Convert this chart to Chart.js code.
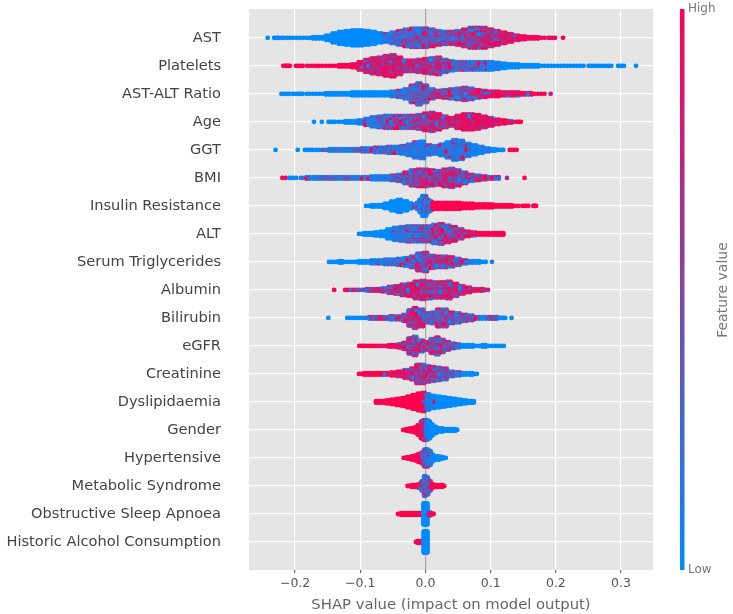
<!DOCTYPE html>
<html>
<head>
<meta charset="utf-8">
<script src="https://cdn.jsdelivr.net/npm/chart.js@4"></script>
<style>
	html, body { margin: 0; padding: 0; background: #fff; }
	canvas { display: block; filter: blur(0.5px); }
</style>
</head>
<body>
<canvas id="shap" width="733" height="614"></canvas>
<script>
const features = ['AST', 'Platelets', 'AST-ALT Ratio', 'Age', 'GGT', 'BMI', 'Insulin Resistance', 'ALT',
	'Serum Triglycerides', 'Albumin', 'Bilirubin', 'eGFR', 'Creatinine', 'Dyslipidaemia', 'Gender',
	'Hypertensive', 'Metabolic Syndrome', 'Obstructive Sleep Apnoea', 'Historic Alcohol Consumption'];
const xTicks = [-0.2, -0.1, 0, 0.1, 0.2, 0.3];
const colorbarLabels = ['Low', 'High'];

// each column: [SHAP value, dots stacked there, mean feature value 0..1]
const astColumns = [[-0.242,1,0],[-0.231,1,0],[-0.226,1,0],[-0.219,1,0],[-0.21,1,0],[-0.2,1,0],[-0.19,1,0],[-0.18,1,0],[-0.17,2,0],[-0.16,2,0],[-0.15,4,0],[-0.14,7,0],[-0.13,9,0],[-0.12,10,0],[-0.11,11,0],[-0.1,11,0],[-0.09,10,0],[-0.08,9,0],[-0.07,7,0],[-0.06,6,0.1],[-0.05,8,0.3],[-0.04,10,0.3],[-0.03,12,0.3],[-0.02,13,0.3],[-0.01,13,0.35],[0,13,0.4],[0.01,12,0.4],[0.02,10,0.4],[0.03,9,0.4],[0.04,9,0.45],[0.05,10,0.45],[0.06,12,0.5],[0.07,14,0.5],[0.08,14,0.55],[0.09,14,0.6],[0.1,12,0.65],[0.11,10,0.7],[0.12,8,0.75],[0.13,6,0.8],[0.14,4,0.85],[0.15,3,0.9],[0.16,2,0.9],[0.17,2,0.9],[0.18,1,0.95],[0.19,1,0.9],[0.197,1,0.8],[0.211,1,1]];
const plateletsColumns = [[-0.217,1,1],[-0.213,1,1],[-0.209,1,1],[-0.197,1,1],[-0.19,1,1],[-0.179,1,1],[-0.169,1,1],[-0.16,1,1],[-0.15,1,1],[-0.14,1,1],[-0.13,2,1],[-0.12,2,1],[-0.11,3,0.95],[-0.1,6,0.85],[-0.09,9,0.8],[-0.08,11,0.75],[-0.07,12,0.75],[-0.06,14,0.75],[-0.05,15,0.7],[-0.04,12,0.7],[-0.03,8,0.7],[-0.02,8,0.65],[-0.01,9,0.6],[0,10,0.6],[0.01,11,0.55],[0.02,12,0.55],[0.03,9,0.5],[0.04,7,0.4],[0.05,6,0.35],[0.06,6,0.3],[0.07,6,0.2],[0.08,6,0.2],[0.09,6,0.15],[0.1,6,0.1],[0.11,5,0.1],[0.12,4,0],[0.13,3,0],[0.14,3,0],[0.15,2,0],[0.16,2,0],[0.17,2,0],[0.18,1,0],[0.19,1,0],[0.2,1,0],[0.21,1,0],[0.22,1,0],[0.23,1,0],[0.24,1,0],[0.252,1,0],[0.259,1,0],[0.267,1,0],[0.275,1,0],[0.283,1,0],[0.297,1,0],[0.303,1,0],[0.323,1,0]];
const ratioColumns = [[-0.219,1,0],[-0.211,1,0],[-0.202,1,0],[-0.195,1,0],[-0.19,1,0],[-0.18,1,0],[-0.17,1,0],[-0.16,1,0],[-0.15,2,0],[-0.14,2,0],[-0.13,2,0],[-0.12,2,0],[-0.11,3,0],[-0.1,3,0],[-0.09,3,0],[-0.08,3,0],[-0.07,3,0],[-0.06,3,0],[-0.05,4,0.1],[-0.04,5,0.2],[-0.03,7,0.3],[-0.02,12,0.3],[-0.01,15,0.3],[0,12,0.3],[0.01,7,0.4],[0.02,5,0.45],[0.03,6,0.5],[0.04,7,0.45],[0.05,8,0.4],[0.06,9,0.4],[0.07,8,0.45],[0.08,6,0.6],[0.09,5,0.7],[0.1,4,0.8],[0.11,4,0.85],[0.12,3,0.9],[0.13,3,0.9],[0.14,3,0.9],[0.15,2,0.95],[0.16,2,0.95],[0.17,1,0.95],[0.18,1,0.95],[0.192,1,0.9]];
const ageColumns = [[-0.171,1,0],[-0.159,1,0],[-0.147,1,0],[-0.14,1,0],[-0.13,1,0],[-0.12,2,0],[-0.11,2,0],[-0.1,3,0.05],[-0.09,5,0.1],[-0.08,7,0.2],[-0.07,8,0.25],[-0.06,9,0.3],[-0.05,9,0.35],[-0.04,9,0.4],[-0.03,9,0.45],[-0.02,9,0.5],[-0.01,10,0.55],[0,12,0.6],[0.01,13,0.65],[0.02,11,0.7],[0.03,8,0.7],[0.04,6,0.75],[0.05,9,0.8],[0.06,11,0.85],[0.07,11,0.85],[0.08,10,0.85],[0.09,8,0.85],[0.1,6,0.85],[0.11,4,0.85],[0.12,3,0.9],[0.13,2,0.9],[0.14,1,0.95],[0.145,1,1]];
const ggtColumns = [[-0.23,1,0],[-0.196,1,0],[-0.183,1,0],[-0.175,1,0],[-0.165,1,0],[-0.155,1,0.2],[-0.145,2,0.1],[-0.135,2,0.1],[-0.125,2,0.1],[-0.115,2,0.15],[-0.105,2,0.25],[-0.095,3,0.3],[-0.085,3,0.25],[-0.075,4,0.25],[-0.065,4,0.25],[-0.055,5,0.25],[-0.045,5,0.2],[-0.035,6,0.15],[-0.025,8,0.15],[-0.015,11,0.15],[-0.005,12,0.15],[0.005,7,0.15],[0.015,6,0.15],[0.025,8,0.15],[0.035,11,0.15],[0.045,14,0.15],[0.055,13,0.15],[0.065,9,0.15],[0.075,7,0.1],[0.085,5,0.1],[0.095,3,0.1],[0.105,2,0],[0.112,1,0.1],[0.118,1,0],[0.131,1,1],[0.138,1,1]];
const bmiColumns = [[-0.217,1,1],[-0.207,1,0],[-0.2,1,0],[-0.189,1,0.1],[-0.18,2,0.15],[-0.17,2,0.15],[-0.16,2,0.2],[-0.15,2,0.2],[-0.14,2,0.25],[-0.13,2,0.25],[-0.12,2,0.25],[-0.11,2,0.2],[-0.1,2,0.2],[-0.09,2,0.15],[-0.08,3,0.1],[-0.07,3,0.1],[-0.06,3,0.15],[-0.05,4,0.2],[-0.04,5,0.3],[-0.03,8,0.45],[-0.02,11,0.55],[-0.01,12,0.55],[0,12,0.55],[0.01,11,0.55],[0.02,10,0.55],[0.03,12,0.6],[0.04,13,0.6],[0.05,11,0.55],[0.06,8,0.55],[0.07,5,0.5],[0.08,4,0.45],[0.09,3,0.45],[0.1,2,0.4],[0.11,2,0.5],[0.125,1,0.8],[0.152,1,1]];
const insulinColumns = [[-0.089,1,0],[-0.08,2,0],[-0.07,2,0],[-0.06,4,0],[-0.05,7,0],[-0.04,9,0],[-0.03,7,0],[-0.022,4,0],[-0.017,2,0.4],[-0.012,5,0.3],[-0.008,9,0.1],[-0.004,14,0.05],[0,14,0.05],[0.004,9,0.1],[0.008,7,0.2],[0.012,5,1],[0.02,5,1],[0.03,5,1],[0.04,5,1],[0.05,5,1],[0.06,4,1],[0.07,4,1],[0.08,3,1],[0.09,3,1],[0.1,3,1],[0.11,2,1],[0.12,2,1],[0.13,2,1],[0.14,1,1],[0.15,1,1],[0.156,1,1],[0.166,1,1],[0.169,1,1]];
const altColumns = [[-0.1,1,0],[-0.092,2,0],[-0.084,2,0],[-0.076,3,0],[-0.066,4,0],[-0.056,7,0],[-0.046,9,0.1],[-0.036,10,0.15],[-0.026,11,0.3],[-0.016,11,0.35],[-0.006,11,0.35],[0.004,11,0.35],[0.014,13,0.4],[0.024,14,0.45],[0.034,12,0.5],[0.044,10,0.55],[0.054,7,0.65],[0.064,4,0.75],[0.074,3,0.85],[0.084,2,0.95],[0.094,2,1],[0.104,2,1],[0.112,2,1],[0.118,2,1]];
const triglyceridesColumns = [[-0.146,1,0],[-0.138,1,0],[-0.13,2,0],[-0.12,1,0],[-0.11,1,0],[-0.1,2,0],[-0.09,2,0],[-0.08,3,0.05],[-0.07,3,0.1],[-0.06,4,0.15],[-0.05,4,0.15],[-0.04,5,0.2],[-0.03,6,0.2],[-0.02,8,0.3],[-0.01,12,0.45],[0,13,0.5],[0.01,9,0.5],[0.02,8,0.5],[0.03,8,0.5],[0.04,7,0.5],[0.05,5,0.45],[0.06,3,0.3],[0.07,2,0.1],[0.08,2,0],[0.09,1,0],[0.102,1,0]];
const albuminColumns = [[-0.14,1,1],[-0.121,1,1],[-0.112,1,0.5],[-0.104,1,0.3],[-0.096,1,0.6],[-0.088,2,0.5],[-0.08,2,0.6],[-0.072,2,0.5],[-0.064,3,0.45],[-0.054,5,0.5],[-0.044,6,0.6],[-0.034,8,0.7],[-0.024,9,0.7],[-0.014,12,0.7],[-0.004,13,0.7],[0.006,12,0.65],[0.016,11,0.65],[0.026,11,0.6],[0.036,12,0.65],[0.046,9,0.65],[0.056,6,0.65],[0.066,4,0.7],[0.076,2,0.7],[0.086,2,0.75],[0.094,1,0.8]];
const bilirubinColumns = [[-0.149,1,0],[-0.118,1,0],[-0.11,1,0],[-0.101,1,0],[-0.092,1,0.1],[-0.084,2,0.5],[-0.076,2,0.4],[-0.068,2,0.5],[-0.06,2,0.4],[-0.052,3,0.4],[-0.042,3,0.45],[-0.032,5,0.5],[-0.024,11,0.55],[-0.016,14,0.6],[-0.006,12,0.55],[0.004,7,0.4],[0.012,8,0.45],[0.02,12,0.45],[0.03,12,0.45],[0.04,8,0.45],[0.05,7,0.4],[0.06,5,0.35],[0.07,4,0.3],[0.08,2,0.25],[0.09,2,0.2],[0.1,2,0.55],[0.108,2,0.5],[0.115,1,0],[0.121,1,0],[0.132,1,0]];
const egfrColumns = [[-0.1,1,1],[-0.094,1,1],[-0.086,1,1],[-0.078,1,1],[-0.07,1,0.9],[-0.062,1,0.9],[-0.054,2,0.9],[-0.046,2,0.85],[-0.04,3,0.8],[-0.032,5,0.7],[-0.024,11,0.55],[-0.016,13,0.5],[-0.006,8,0.45],[0.002,6,0.5],[0.01,10,0.55],[0.018,12,0.55],[0.026,9,0.5],[0.034,6,0.45],[0.042,4,0.35],[0.05,3,0.1],[0.06,2,0],[0.07,2,0],[0.08,1,0],[0.09,2,0],[0.1,1,0],[0.109,1,0],[0.118,1,0]];
const creatinineColumns = [[-0.1,1,1],[-0.092,2,1],[-0.084,2,1],[-0.076,2,1],[-0.068,2,1],[-0.06,2,0.95],[-0.05,3,0.9],[-0.04,4,0.8],[-0.03,6,0.75],[-0.02,8,0.65],[-0.012,13,0.6],[-0.004,13,0.55],[0.004,11,0.55],[0.012,10,0.5],[0.02,9,0.5],[0.03,8,0.45],[0.04,4,0.4],[0.05,3,0.15],[0.06,2,0],[0.07,2,0],[0.077,1,0]];
const dyslipidaemiaColumns = [[-0.074,2,1],[-0.066,2,1],[-0.058,3,1],[-0.05,4,1],[-0.042,5,1],[-0.034,6,1],[-0.026,8,1],[-0.018,10,1],[-0.01,12,1],[-0.003,13,0.9],[0.004,11,0.1],[0.012,9,0.05],[0.02,8,0],[0.028,7,0],[0.036,6,0],[0.044,5,0],[0.052,4,0],[0.06,3,0],[0.068,2,0],[0.073,2,0]];
const genderColumns = [[-0.033,1,1],[-0.028,2,1],[-0.022,3,1],[-0.016,4,1],[-0.011,7,1],[-0.006,12,0.9],[-0.002,14,0.7],[0.002,14,0.1],[0.006,12,0],[0.01,8,0],[0.015,5,0],[0.02,3,0],[0.025,3,0],[0.03,2,0],[0.035,2,0],[0.04,2,0],[0.045,2,0],[0.048,1,0]];
const hypertensiveColumns = [[-0.032,1,1],[-0.026,2,1],[-0.02,3,1],[-0.015,4,1],[-0.01,6,1],[-0.005,8,0.8],[-0.001,12,0.3],[0.003,12,0.15],[0.007,10,0.15],[0.011,5,0.1],[0.015,3,0],[0.02,3,0],[0.025,2,0],[0.03,1,0]];
const metabolicColumns = [[-0.026,1,1],[-0.02,2,1],[-0.015,2,1],[-0.01,3,0.8],[-0.005,7,0.3],[-0.001,14,0.25],[0.003,12,0.2],[0.007,7,0.35],[0.011,3,1],[0.015,2,1],[0.02,2,1],[0.025,2,1],[0.028,1,1]];
const apnoeaColumns = [[-0.041,1,1],[-0.036,2,1],[-0.031,2,1],[-0.026,2,1],[-0.021,2,1],[-0.016,2,1],[-0.011,2,1],[-0.006,2,1],[-0.002,15,0],[0.002,15,0],[0.006,3,0.5],[0.01,1,1],[0.012,1,1]];
const alcoholColumns = [[-0.014,1,1],[-0.011,2,1],[-0.008,2,1],[-0.005,2,1],[-0.002,15,0],[0.002,15,0]];

const featureColumns = [astColumns, plateletsColumns, ratioColumns, ageColumns, ggtColumns, bmiColumns, insulinColumns,
	altColumns, triglyceridesColumns, albuminColumns, bilirubinColumns, egfrColumns, creatinineColumns, dyslipidaemiaColumns,
	genderColumns, hypertensiveColumns, metabolicColumns, apnoeaColumns, alcoholColumns];

const lowColor = [0, 139, 251];
const highColor = [255, 0, 81];
const colorPattern = [-0.7, 0.3, -0.2, 0.6, 0.1, -0.5, 0.4, -0.1, 0.2, -0.3, 0.7, 0];

const featureColor = (v) => {
	const t = Math.max(0, Math.min(1, v));
	const mix = lowColor.map((c, i) => Math.round(c + (highColor[i] - c) * t));
	return `rgb(${mix.join(',')})`;
};

// stack every column into a small swarm around its row
const buildDataset = (columns, row) => {
	const data = [];
	const colors = [];
	const stackStep = 0.054;
	columns.forEach((col, c) => {
		const prev = columns[c - 1] ? col[0] - columns[c - 1][0] : 1;
		const next = columns[c + 1] ? columns[c + 1][0] - col[0] : 1;
		const gap = Math.min(prev, next);
		// columns in a continuous run get two dots a level so the strip has no holes
		const shifts = gap <= 0.0105 ? [-gap / 4, gap / 4] : [0];
		const n = col[1];
		for (let j = 0; j < n; j++) {
			// walk the levels out of order so they do not paint as stripes
			const i = n % 5 ? (j * 5) % n : j;
			shifts.forEach((shift, s) => {
				data.push({
					x: col[0] + shift,
					y: row + (i - (n - 1) / 2) * stackStep
				});
				const idx = c * c * 3 + i * i * 5 + c * i + s * 7;
				let v = col[2];
				if (v > 0 && v < 1) {
					v += colorPattern[idx % colorPattern.length] * Math.min(v, 1 - v);
					if (idx % 19 === 0) v = 1;
					if (idx % 19 === 9) v = 0;
				}
				colors.push(featureColor(v));
			});
		}
	});
	return {
		data: data,
		pointBackgroundColor: colors,
		pointBorderWidth: 0,
		pointRadius: 2.4,
		pointHoverRadius: 2.4,
		showLine: false
	};
};

const shapPlotPlugin = {
	id: 'shapPlot',
	beforeDraw(chart) {
		const { ctx, chartArea: a } = chart;
		ctx.save();
		ctx.fillStyle = '#e5e5e5';
		ctx.fillRect(a.left, a.top, a.right - a.left, a.bottom - a.top);
		ctx.restore();
	},
	afterDraw(chart) {
		const { ctx, chartArea: a, scales } = chart;
		const top = scales.colorbar.getPixelForValue(1);
		const bottom = scales.colorbar.getPixelForValue(0);
		const grad = ctx.createLinearGradient(0, bottom, 0, top);
		grad.addColorStop(0, featureColor(0));
		grad.addColorStop(1, featureColor(1));
		ctx.save();
		ctx.fillStyle = grad;
		ctx.fillRect(a.right + 27, top, 4.5, bottom - top);
		ctx.translate(723, 290);
		ctx.rotate(-Math.PI / 2);
		ctx.fillStyle = '#777';
		ctx.font = '14px "DejaVu Sans"';
		ctx.textAlign = 'center';
		ctx.textBaseline = 'middle';
		ctx.fillText('Feature value', 0, 0);
		ctx.restore();
	}
};

// ticks.padding also goes into the vertical padding of an axis, drop it there
const noVerticalPadding = (axis) => {
	axis.paddingTop = 0;
	axis.paddingBottom = 0;
};

new Chart(document.getElementById('shap'), {
	type: 'scatter',
	data: { datasets: featureColumns.map((cols, row) => buildDataset(cols, row)) },
	plugins: [shapPlotPlugin],
	options: {
		responsive: false,
		animation: false,
		layout: { padding: { top: 9, left: 0, right: 0, bottom: 0 } },
		plugins: { legend: { display: false }, tooltip: { enabled: false } },
		scales: {
			x: {
				type: 'linear',
				min: -0.2707,
				max: 0.349,
				afterBuildTicks: (axis) => { axis.ticks = xTicks.map(value => ({ value })); },
				afterFit: (axis) => { axis.height = 44; },
				grid: {
					color: (ctx) => (ctx.tick && ctx.tick.value === 0 ? '#a6a6a6' : '#fff'),
					lineWidth: 1.2,
					tickColor: '#666',
					tickLength: 3,
					z: 0
				},
				border: { display: false },
				ticks: {
					color: '#555',
					font: { family: 'DejaVu Sans', size: 12.5 },
					padding: 3,
					maxRotation: 0,
					callback: (v) => (v === 0 ? '0.0' : v.toFixed(1).replace('-', '\u2212'))
				},
				title: {
					display: true,
					text: 'SHAP value (impact on model output)',
					color: '#666',
					font: { family: 'DejaVu Sans', size: 14.8 },
					padding: { top: 1, bottom: 0 }
				}
			},
			y: {
				type: 'linear',
				reverse: true,
				min: -1.03,
				max: 19,
				afterBuildTicks: (axis) => { axis.ticks = features.map((f, i) => ({ value: i })); },
				afterFit: (axis) => { axis.width = 249; noVerticalPadding(axis); },
				grid: { color: '#fff', lineWidth: 1.2, drawTicks: false },
				border: { display: false },
				ticks: {
					color: '#444',
					font: { family: 'DejaVu Sans', size: 14.6 },
					padding: 28,
					callback: (v) => features[v]
				}
			},
			colorbar: {
				type: 'linear',
				position: 'right',
				min: 0,
				max: 1,
				afterBuildTicks: (axis) => { axis.ticks = [{ value: 0 }, { value: 1 }]; },
				afterFit: (axis) => { axis.width = 80; noVerticalPadding(axis); },
				grid: { display: false, drawTicks: false },
				border: { display: false },
				ticks: {
					color: '#777',
					font: { family: 'DejaVu Sans', size: 12 },
					padding: 35,
					callback: (v) => colorbarLabels[v]
				}
			}
		}
	}
});
</script>
</body>
</html>
